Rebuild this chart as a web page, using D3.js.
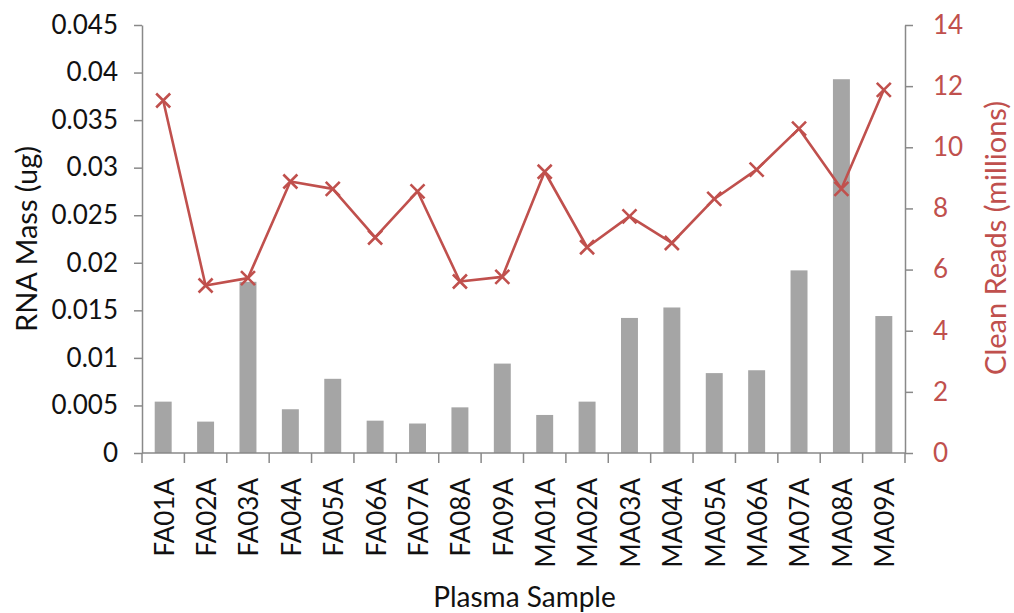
<!DOCTYPE html>
<html>
<head>
<meta charset="utf-8">
<script src="https://cdn.jsdelivr.net/npm/d3@7"></script>
<style>
  html, body { margin: 0; padding: 0; background: #fff; }
  svg text { font-family: Lato, "Open Sans", sans-serif; }
</style>
</head>
<body>
<svg id="chart" width="1014" height="613"></svg>
<script>
// Plasma samples
const samples = ["FA01A","FA02A","FA03A","FA04A","FA05A","FA06A","FA07A","FA08A","FA09A",
                 "MA01A","MA02A","MA03A","MA04A","MA05A","MA06A","MA07A","MA08A","MA09A"];
// RNA mass per sample (ug) — bars, left axis
const rnaMass = [0.0054, 0.0033, 0.0180, 0.0046, 0.0078, 0.0034, 0.0031, 0.0048, 0.0094,
                 0.0040, 0.0054, 0.0142, 0.0153, 0.0084, 0.0087, 0.0192, 0.0393, 0.0144];
// Clean reads per sample (millions) — line, right axis
const cleanReads = [11.53, 5.48, 5.72, 8.88, 8.64, 7.05, 8.56, 5.61, 5.76,
                    9.20, 6.73, 7.74, 6.87, 8.31, 9.27, 10.61, 8.64, 11.88];
const leftTicks = [0, 0.005, 0.01, 0.015, 0.02, 0.025, 0.03, 0.035, 0.04, 0.045];
const rightTicks = [0, 2, 4, 6, 8, 10, 12, 14];

const svg = d3.select("#chart");
const m = { left: 142, right: 905, top: 25, bottom: 453 };
const axisColor = "#898989";
const red = "#c0504d";
const barColor = "#a5a5a5";
const fs = 26;      // tick labels
const fsTitle = 29; // axis titles

const x = d3.scaleBand().domain(samples).range([m.left, m.right]).paddingInner(0).paddingOuter(0);
const yL = d3.scaleLinear().domain([0, 0.045]).range([m.bottom, m.top]);
const yR = d3.scaleLinear().domain([0, 14]).range([m.bottom, m.top]);
const barW = x.bandwidth() / 2.5;

// Bars
svg.append("g").selectAll("rect").data(samples).join("rect")
  .attr("x", d => x(d) + (x.bandwidth() - barW) / 2)
  .attr("width", barW)
  .attr("y", (d, i) => yL(rnaMass[i]))
  .attr("height", (d, i) => yL(0) - yL(rnaMass[i]))
  .attr("fill", barColor);

// Left axis
const gL = svg.append("g").attr("transform", `translate(${m.left},0)`)
  .call(d3.axisLeft(yL).tickValues(leftTicks).tickFormat(d => d === 0 ? "0" : String(+d.toFixed(3))).tickSize(8).tickPadding(16).tickSizeOuter(0));
gL.select(".domain").attr("stroke", axisColor).attr("stroke-width", 1.5);
gL.selectAll(".tick line").attr("stroke", axisColor).attr("stroke-width", 1.5);
gL.selectAll(".tick text").attr("font-size", fs).attr("fill", "#111");

// Right axis
const gR = svg.append("g").attr("transform", `translate(${m.right},0)`)
  .call(d3.axisRight(yR).tickValues(rightTicks).tickSize(8).tickPadding(20).tickSizeOuter(0));
gR.select(".domain").attr("stroke", axisColor).attr("stroke-width", 1.5);
gR.selectAll(".tick line").attr("stroke", axisColor).attr("stroke-width", 1.5);
gR.selectAll(".tick text").attr("font-size", fs).attr("fill", red);

// Category axis: ticks at band boundaries, rotated labels at band centres
const gX = svg.append("g");
gX.append("line").attr("x1", m.left).attr("x2", m.right).attr("y1", m.bottom).attr("y2", m.bottom)
  .attr("stroke", axisColor).attr("stroke-width", 1.5);
const bounds = samples.map(d => x(d)).concat([x(samples[samples.length - 1]) + x.bandwidth()]);
gX.selectAll("line.tk").data(bounds).join("line").attr("class", "tk")
  .attr("x1", d => d).attr("x2", d => d).attr("y1", m.bottom).attr("y2", m.bottom + 10)
  .attr("stroke", axisColor).attr("stroke-width", 1.5);
gX.selectAll("text").data(samples).join("text")
  .attr("transform", d => `translate(${x(d) + x.bandwidth() / 2 + 1},478) rotate(-90)`)
  .attr("text-anchor", "end").attr("dy", "0.36em")
  .attr("font-size", fs).attr("fill", "#111").text(d => d);

// Clean reads line with x markers
const line = d3.line().x(d => x(d) + x.bandwidth() / 2).y((d, i) => yR(cleanReads[i]));
svg.append("path").datum(samples).attr("d", line)
  .attr("fill", "none").attr("stroke", red).attr("stroke-width", 2.6).attr("stroke-linejoin", "round");
const ms = 7;
const marks = svg.append("g").selectAll("g").data(samples).join("g")
  .attr("transform", (d, i) => `translate(${x(d) + x.bandwidth() / 2},${yR(cleanReads[i])})`);
marks.append("path").attr("d", `M${-ms},${-ms}L${ms},${ms}M${-ms},${ms}L${ms},${-ms}`)
  .attr("stroke", red).attr("stroke-width", 2.6);

// Axis titles
svg.append("text").attr("transform", "translate(37,239) rotate(-90)")
  .attr("text-anchor", "middle").attr("font-size", fsTitle).attr("fill", "#111").text("RNA Mass (ug)");
svg.append("text").attr("transform", "translate(1006,238) rotate(-90)")
  .attr("text-anchor", "middle").attr("font-size", fsTitle).attr("fill", red).text("Clean Reads (millions)");
svg.append("text").attr("x", (m.left + m.right) / 2 + 1).attr("y", 607)
  .attr("text-anchor", "middle").attr("font-size", fsTitle - 1).attr("fill", "#111").text("Plasma Sample");
</script>
</body>
</html>
